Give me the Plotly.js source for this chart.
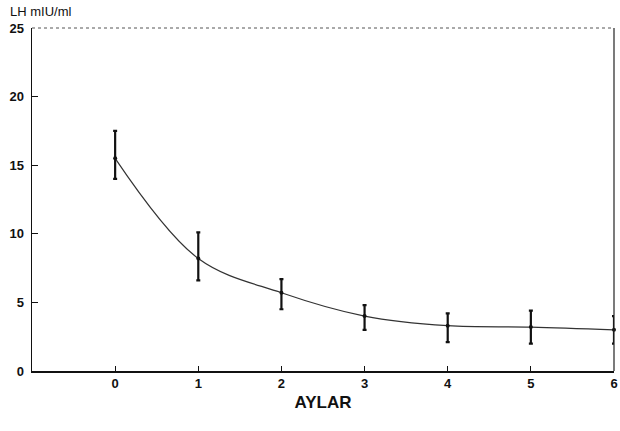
<!DOCTYPE html>
<html><head><meta charset="utf-8">
<script src="https://cdn.plot.ly/plotly-3.0.1.min.js"></script>
<style>html,body{margin:0;padding:0;background:#fff;}#chart{width:620px;height:431px;}</style>
</head><body><div id="chart"></div>
<script>
const months = [0, 1, 2, 3, 4, 5, 6];
const lhMean = [15.5, 8.2, 5.7, 4.0, 3.3, 3.2, 3.0];
const errUpper = [2.0, 1.9, 1.0, 0.8, 0.9, 1.2, 1.0];
const errLower = [1.5, 1.6, 1.2, 1.0, 1.2, 1.2, 1.0];
const xTicks = [0, 1, 2, 3, 4, 5, 6];
const yTicks = [0, 5, 10, 15, 20, 25];

const fontFam = "Liberation Sans, Arial, sans-serif";

const traces = [{
  x: months, y: lhMean, type: 'scatter', mode: 'lines+markers',
  line: {shape: 'spline', smoothing: 1.0, color: '#333', width: 1.2},
  marker: {size: 4, color: '#111'},
  error_y: {type: 'data', symmetric: false, array: errUpper, arrayminus: errLower,
            color: '#111', thickness: 2.2, width: 2},
  cliponaxis: false, showlegend: false
}];

const layout = {
  width: 620, height: 431,
  margin: {l: 32, r: 6, t: 28, b: 60},
  paper_bgcolor: '#fff', plot_bgcolor: '#fff',
  xaxis: {range: [-1, 6], tickvals: xTicks, ticks: 'inside', ticklen: 5, tickcolor: '#111',
          ticklabeloverflow: 'allow',
          showgrid: false, zeroline: false, showline: true, linecolor: '#111', linewidth: 1.5,
          tickfont: {family: fontFam, size: 13, weight: 'bold', color: '#111'},
          title: {text: 'AYLAR', font: {family: fontFam, size: 17, weight: 'bold', color: '#111'}, standoff: 6}},
  yaxis: {range: [0, 25], tickvals: yTicks, ticks: 'inside', ticklen: 6, tickcolor: '#111',
          ticklabeloverflow: 'allow', ticklabelstandoff: 4,
          showgrid: false, zeroline: false, showline: true, linecolor: '#111', linewidth: 1.5,
          tickfont: {family: fontFam, size: 13, weight: 'bold', color: '#111'}},
  shapes: [
    {type: 'line', xref: 'paper', yref: 'paper', x0: 0, x1: 1, y0: 1, y1: 1,
     line: {color: '#555', width: 1, dash: 'dot'}},
    {type: 'line', xref: 'paper', yref: 'paper', x0: 1, x1: 1, y0: 0, y1: 1,
     line: {color: '#222', width: 1.2}}
  ],
  annotations: [{text: 'LH mIU/ml', xref: 'paper', yref: 'paper', x: -0.042, y: 1.02,
                 xanchor: 'left', yanchor: 'bottom', showarrow: false,
                 font: {family: fontFam, size: 13, color: '#111'}}]
};

Plotly.newPlot('chart', traces, layout, {displayModeBar: false, staticPlot: true});
</script></body></html>
